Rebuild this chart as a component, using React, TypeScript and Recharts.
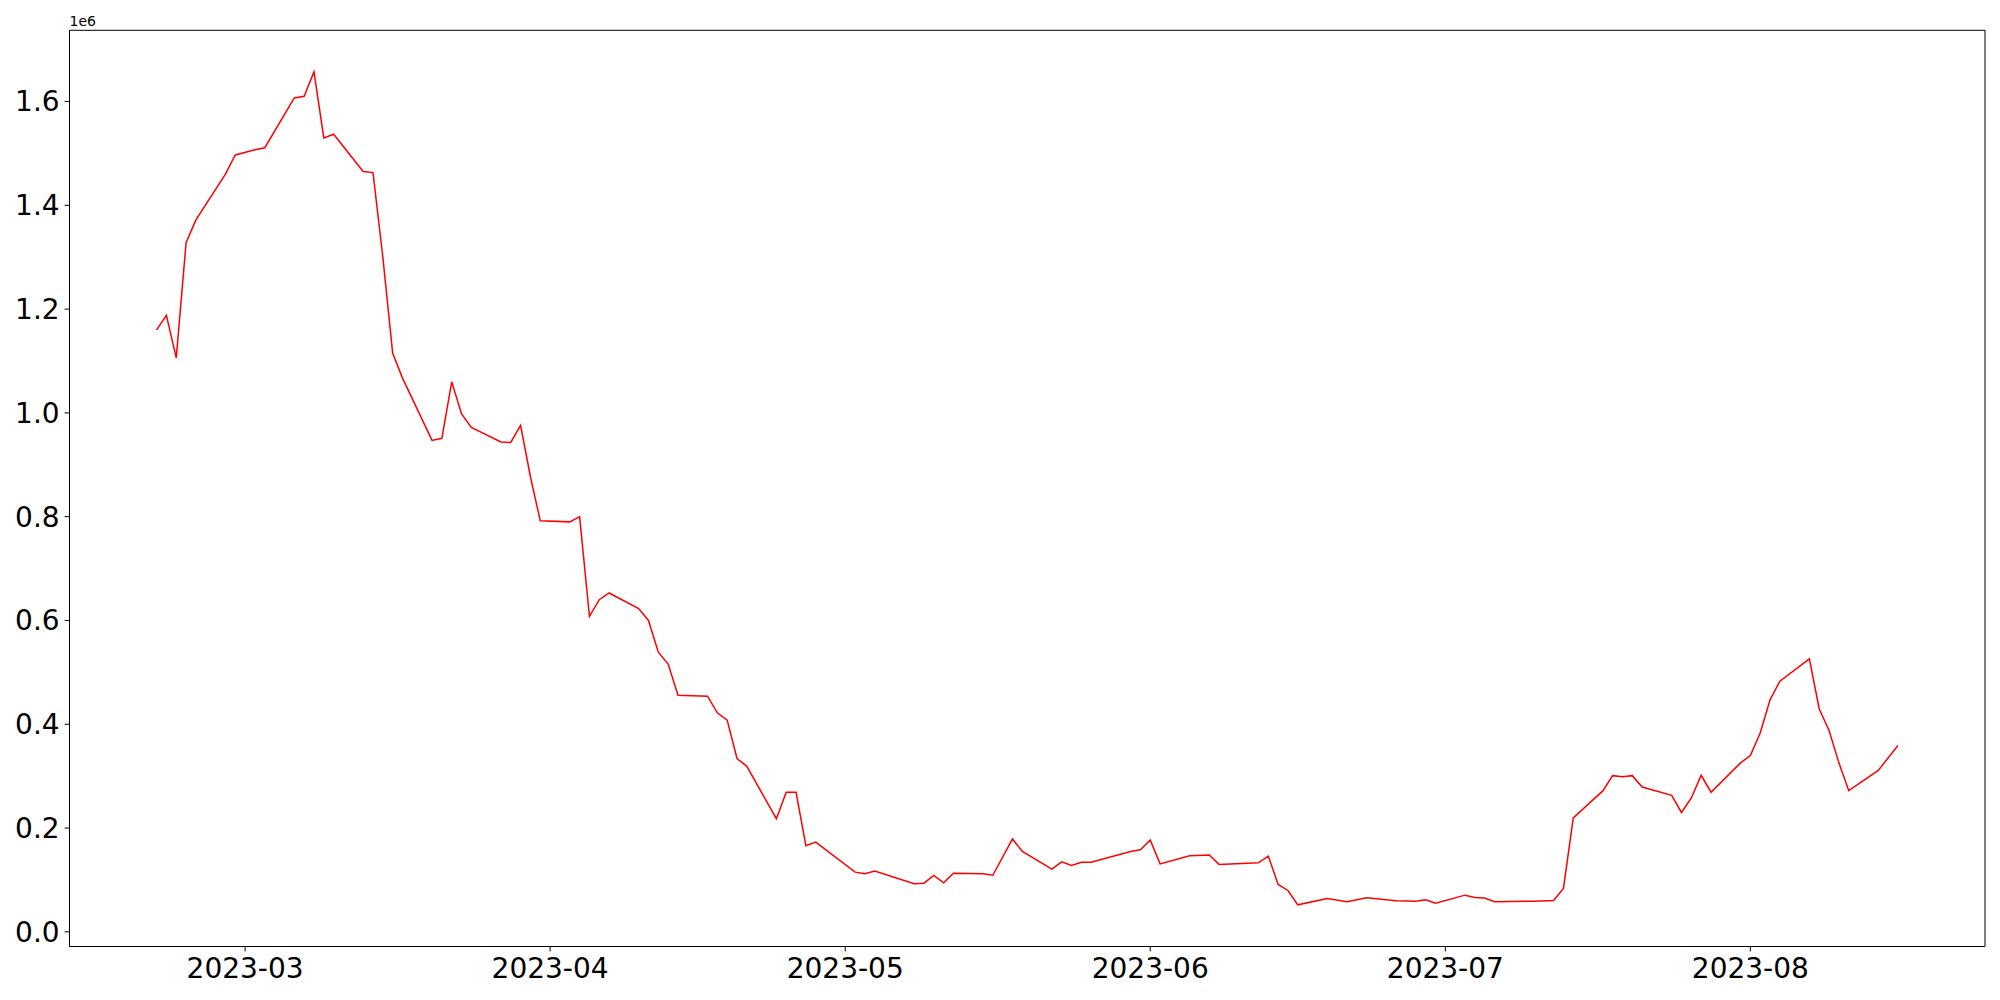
import { LineChart, Line, XAxis, YAxis, ReferenceArea } from 'recharts';

// trading days
const dates = [
  '2023-02-20','2023-02-21','2023-02-22','2023-02-23','2023-02-24','2023-02-27','2023-02-28',
  '2023-03-02','2023-03-03','2023-03-06','2023-03-07','2023-03-08','2023-03-09','2023-03-10',
  '2023-03-13','2023-03-14','2023-03-15','2023-03-16','2023-03-17','2023-03-20','2023-03-21',
  '2023-03-22','2023-03-23','2023-03-24','2023-03-27','2023-03-28','2023-03-29','2023-03-30',
  '2023-03-31','2023-04-03','2023-04-04','2023-04-05','2023-04-06','2023-04-07','2023-04-10',
  '2023-04-11','2023-04-12','2023-04-13','2023-04-14','2023-04-17','2023-04-18','2023-04-19',
  '2023-04-20','2023-04-21','2023-04-24','2023-04-25','2023-04-26','2023-04-27','2023-04-28',
  '2023-05-02','2023-05-03','2023-05-04','2023-05-08','2023-05-09','2023-05-10','2023-05-11',
  '2023-05-12','2023-05-15','2023-05-16','2023-05-18','2023-05-19','2023-05-22','2023-05-23',
  '2023-05-24','2023-05-25','2023-05-26','2023-05-30','2023-05-31','2023-06-01','2023-06-02',
  '2023-06-05','2023-06-07','2023-06-08','2023-06-12','2023-06-13','2023-06-14','2023-06-15',
  '2023-06-16','2023-06-19','2023-06-21','2023-06-23','2023-06-26','2023-06-28','2023-06-29',
  '2023-06-30','2023-07-03','2023-07-04','2023-07-05','2023-07-06','2023-07-10','2023-07-12',
  '2023-07-13','2023-07-14','2023-07-17','2023-07-18','2023-07-19','2023-07-20','2023-07-21',
  '2023-07-24','2023-07-25','2023-07-26','2023-07-27','2023-07-28','2023-07-31','2023-08-01',
  '2023-08-02','2023-08-03','2023-08-04','2023-08-07','2023-08-08','2023-08-09','2023-08-10',
  '2023-08-11','2023-08-14','2023-08-16',
];

const values = [
  1160000, 1188000, 1106000, 1328000, 1372000, 1460000, 1497000,
  1507000, 1511000, 1607000, 1610000, 1657000, 1530000, 1537000,
  1465000, 1463000, 1300000, 1115000, 1067000, 947000, 951000,
  1060000, 998000, 972000, 944000, 943000, 976000, 877000,
  792000, 790000, 800000, 608000, 640000, 653000, 623000,
  600000, 539000, 516000, 456000, 454000, 422000, 408000,
  334000, 319000, 218000, 269000, 269000, 166000, 173000,
  115000, 112000, 117000, 92600, 93800, 108600, 94500,
  113000, 112000, 109000, 179000, 155000, 121000, 135000,
  128000, 134000, 134000, 155000, 158000, 177000, 131000,
  146500, 148000, 130000, 133000, 146000, 91300, 79700,
  52000, 64300, 58000, 65600, 59900, 59100, 61800,
  55300, 70700, 66200, 65000, 58000, 59100, 60500,
  83600, 219600, 271600, 301000, 299000, 301000, 279000,
  263000, 230000, 258000, 301700, 269000, 325600, 339600,
  383000, 447000, 483000, 526000, 429500, 388000, 325600,
  272000, 311000, 359000,
];

const xTickDates = ['2023-03-01', '2023-04-01', '2023-05-01', '2023-06-01', '2023-07-01', '2023-08-01'];
const yTicks = [0, 200000, 400000, 600000, 800000, 1000000, 1200000, 1400000, 1600000];

const toTs = (s: string) => {
  const [y, m, d] = s.split('-').map(Number);
  return Date.UTC(y, m - 1, d);
};

const data = dates.map((d, i) => ({ t: toTs(d), v: values[i] }));

// matplotlib-style 5% autoscale margins
const padded = (arr: number[]) => {
  const lo = Math.min(...arr), hi = Math.max(...arr);
  const p = (hi - lo) * 0.05;
  return [lo - p, hi + p];
};
const [xMin, xMax] = padded(data.map(d => d.t));
const [yMin, yMax] = padded(values);

const fmtMonth = (t: number) => {
  const d = new Date(t);
  return `${d.getUTCFullYear()}-${String(d.getUTCMonth() + 1).padStart(2, '0')}`;
};

const tickFont = { fontSize: 28, fill: '#000', fontFamily: 'DejaVu Sans' };

export default function App() {
  return (
    <div style={{ position: 'relative', width: 2000, height: 1000, background: '#fff' }}>
      <style>{`body{margin:0}`}</style>
      <LineChart width={2000} height={1000} data={data} margin={{ top: 30.3, right: 15, bottom: 0, left: 0 }}>
        <XAxis
          dataKey="t" type="number" domain={[xMin, xMax]} allowDataOverflow
          ticks={xTickDates.map(toTs)} tickFormatter={fmtMonth} interval={0}
          height={53.5} tick={tickFont} tickSize={4.9} tickMargin={7}
          axisLine={{ stroke: '#000' }} tickLine={{ stroke: '#000' }}
        />
        <YAxis
          type="number" domain={[yMin, yMax]} allowDataOverflow
          ticks={yTicks} tickFormatter={(v: number) => (v / 1e6).toFixed(1)} interval={0}
          width={69.5} tick={tickFont} tickSize={4.9} tickMargin={5}
          axisLine={{ stroke: '#000' }} tickLine={{ stroke: '#000' }}
        />
        <ReferenceArea x1={xMin} x2={xMax} y1={yMin} y2={yMax} fill="none" stroke="#000" strokeWidth={1} fillOpacity={0} />
        <Line type="linear" dataKey="v" stroke="#ff0000" strokeWidth={1.5} dot={false} isAnimationActive={false} />
      </LineChart>
      <div style={{ position: 'absolute', left: 69.5, top: 14, fontSize: 14, lineHeight: '14px', fontFamily: 'DejaVu Sans', color: '#000' }}>
        1e6
      </div>
    </div>
  );
}
